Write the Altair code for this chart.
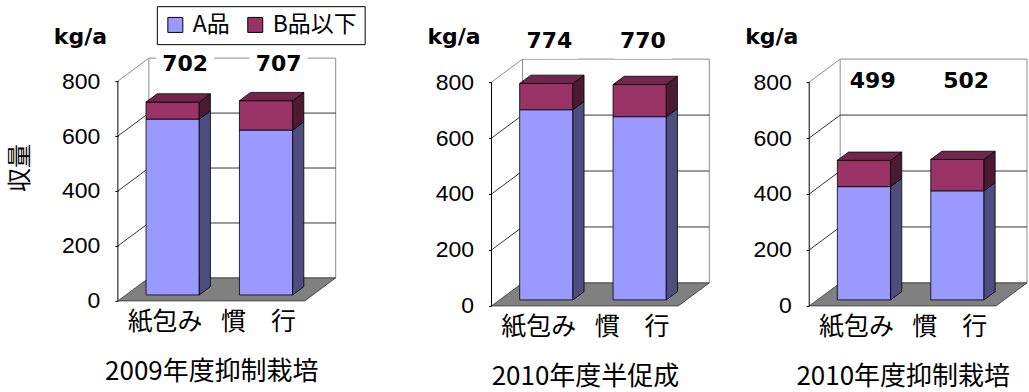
import altair as alt
import pandas as pd

# ---- values ----
categories = ["紙包み", "慣　行"]
series = ["A品", "B品以下"]
panel_titles = ["2009年度抑制栽培", "2010年度半促成", "2010年度抑制栽培"]
a_grade = [[640, 600], [680, 655], [405, 390]]   # A品 (kg/a)
totals = [[702, 707], [774, 770], [499, 502]]    # A品 + B品以下 (kg/a)
y_ticks = [0, 200, 400, 600, 800]
unit_label = "kg/a"
y_title = "収量"

# ---- layout and style ----
JP = "Noto Sans CJK JP"
NUM = "Liberation Sans"
BOLD = "DejaVu Sans"
CAT_PX = 93.5            # pixels per category slot on the front plane
WALL_DX, WALL_DY = 31, 23  # oblique offset of the back wall (right, up), px
BAR_W = 0.57             # bar width in category units
BAR_D0, BAR_D1 = 0.26, 0.62  # bar front / back depth (fraction of wall depth)
Y_MAX = 1000
PLOT_W = [274, 218, 218]
PLOT_H = [275, 280, 280]
LABEL_POS = [(0.22, 862), (0.12, 946), (0.18, 803)]  # (x shift, y) of totals
FRONT = ["#9999FF", "#993366"]
SIDE = ["#4D4D80", "#4D1A33"]
TOP = "#73264D"
WALL_EDGE = "#8C8C8C"
FLOOR = "#808080"


def panel(i):
    n = len(categories)
    W, H = PLOT_W[i], PLOT_H[i]
    ax = WALL_DX / CAT_PX
    ay = WALL_DY * Y_MAX / H
    xs = alt.Scale(domain=[0, W / CAT_PX], nice=False, zero=False)
    ys = alt.Scale(domain=[0, Y_MAX], nice=False, zero=False)
    top_v = y_ticks[-1]

    label_expr = "[" + ",".join(f"'{c}'" for c in categories) + "][floor(datum.value)]"
    x_axis = alt.Axis(values=[j + 0.5 for j in range(n)], labelExpr=label_expr,
                      domain=False, ticks=False, grid=False,
                      labelFont=JP, labelFontSize=25, labelPadding=9, labelColor="black",
                      title=panel_titles[i], titleFont=JP, titleFontSize=26,
                      titleFontWeight="normal", titleColor="black",
                      titleX=n * CAT_PX / 2, titleY=71, titleBaseline="middle",
                      titleAlign="center")
    y_axis = alt.Axis(values=y_ticks, domain=False, grid=False, ticks=True, tickSize=3,
                      tickColor="black", labelFont=NUM, labelFontSize=23, labelPadding=15,
                      labelColor="black",
                      title=unit_label, titleAngle=0, titleX=-38, titleY=10,
                      titleAlign="center", titleBaseline="middle", titleFont=BOLD,
                      titleFontSize=22, titleFontWeight="bold", titleColor="black")

    # every layer shares the same scales and the same axis definitions
    def X(f="x"):
        return alt.X(f"{f}:Q", scale=xs, axis=x_axis)

    def Y(f="y"):
        return alt.Y(f"{f}:Q", scale=ys, axis=y_axis)

    # walls and floor
    wall = pd.DataFrame({"x": [ax], "x2": [n + ax], "y": [ay], "y2": [top_v + ay]})
    back_grid = pd.DataFrame({"x": ax, "x2": n + ax,
                              "y": [v + ay for v in y_ticks[1:-1]]})
    side_grid = pd.DataFrame({"x": 0.0, "x2": ax, "y": y_ticks[1:-1],
                              "y2": [v + ay for v in y_ticks[1:-1]]})
    side_top = pd.DataFrame({"x": [0.0], "x2": [ax], "y": [top_v], "y2": [top_v + ay]})
    floor = pd.DataFrame({"y": [0, ay], "x": [0, ax], "x2": [n, n + ax]})
    axis_line = pd.DataFrame({"x": [0.0], "y": [0], "y2": [top_v]})

    fronts, sides, tops, labels = [], [], [], []
    for j, cat in enumerate(categories):
        c = j + 0.5
        a = a_grade[i][j]
        t = totals[i][j]
        segs = [(series[0], 0, a), (series[1], a, t)]
        for s, lo, hi in segs:
            fronts.append({"series": s, "cat": cat,
                           "x": c - BAR_W / 2 + BAR_D0 * ax,
                           "x2": c + BAR_W / 2 + BAR_D0 * ax,
                           "y": lo + BAR_D0 * ay, "y2": hi + BAR_D0 * ay})
            for d in (BAR_D0, BAR_D1):
                sides.append({"series": s, "key": f"{j}-{s}",
                              "x": c + BAR_W / 2 + d * ax,
                              "y": lo + d * ay, "y2": hi + d * ay})
        for d in (BAR_D0, BAR_D1):
            tops.append({"key": str(j), "y": t + d * ay,
                         "x": c - BAR_W / 2 + d * ax,
                         "x2": c + BAR_W / 2 + d * ax})
        labels.append({"x": c + LABEL_POS[i][0], "y": LABEL_POS[i][1], "total": t})
    fronts = pd.DataFrame(fronts)
    sides = pd.DataFrame(sides)
    tops = pd.DataFrame(tops)
    labels = pd.DataFrame(labels)

    layers = []
    layers.append(alt.Chart(wall).mark_rect(fill="white", stroke=WALL_EDGE, strokeWidth=1)
                  .encode(x=X(), x2="x2:Q", y=Y(), y2="y2:Q"))
    layers.append(alt.Chart(back_grid).mark_rule(color="black", strokeWidth=0.8)
                  .encode(x=X(), x2="x2:Q", y=Y()))
    layers.append(alt.Chart(side_grid).mark_rule(color="black", strokeWidth=0.8)
                  .encode(x=X(), x2="x2:Q", y=Y(), y2="y2:Q"))
    layers.append(alt.Chart(side_top).mark_rule(color=WALL_EDGE, strokeWidth=1)
                  .encode(x=X(), x2="x2:Q", y=Y(), y2="y2:Q"))
    layers.append(alt.Chart(floor).mark_area(orient="horizontal", color=FLOOR,
                                             stroke="#333333", strokeWidth=0.8, opacity=1)
                  .encode(y=Y(), x=X(), x2="x2:Q"))
    layers.append(alt.Chart(axis_line).mark_rule(color="black", strokeWidth=1)
                  .encode(x=X(), y=Y(), y2="y2:Q"))
    # white boxes behind the total labels
    layers.append(alt.Chart(labels).mark_point(shape="M-1,-0.6H1V0.6H-1Z", size=3364,
                                               filled=True, color="white", opacity=1,
                                               strokeWidth=0)
                  .encode(x=X(), y=Y()))

    if i == 0:
        legend = alt.Legend(orient="none", legendX=39, legendY=-20, direction="horizontal",
                            title=None, strokeColor="black", fillColor="white", padding=7,
                            cornerRadius=0, symbolType="square", symbolSize=225,
                            symbolStrokeColor="black", symbolStrokeWidth=1,
                            labelFont=JP, labelFontSize=23, labelColor="black",
                            labelOffset=6, columnPadding=14)
    else:
        legend = None
    color_enc = alt.Color("series:N", scale=alt.Scale(domain=series, range=FRONT),
                          legend=legend)
    layers.append(alt.Chart(fronts).mark_rect(stroke="black", strokeWidth=0.8, opacity=1)
                  .encode(x=X(), x2="x2:Q", y=Y(), y2="y2:Q", color=color_enc))
    for k, s in enumerate(series):
        layers.append(alt.Chart(sides).transform_filter(alt.datum.series == s)
                      .mark_area(orient="vertical", color=SIDE[k], stroke="black",
                                 strokeWidth=0.8, opacity=1)
                      .encode(x=X(), y=Y(), y2="y2:Q", detail="key:N"))
    layers.append(alt.Chart(tops).mark_area(orient="horizontal", color=TOP, stroke="black",
                                            strokeWidth=0.8, opacity=1)
                  .encode(y=Y(), x=X(), x2="x2:Q", detail="key:N"))
    layers.append(alt.Chart(labels).mark_text(font=BOLD, fontWeight="bold", fontSize=22,
                                              color="black", baseline="middle")
                  .encode(x=X(), y=Y(), text=alt.Text("total:Q", format="d")))
    if i == 0:
        layers.append(alt.Chart(pd.DataFrame({"t": [y_title]}))
                      .mark_text(angle=270, font=JP, fontSize=24, color="black",
                                 baseline="middle", align="center")
                      .encode(x=alt.value(-97), y=alt.value(142), text="t:N"))
    return alt.layer(*layers).properties(width=W, height=H)


panels = [panel(i) for i in range(len(panel_titles))]
chart = (alt.hconcat(*panels, spacing=100, bounds="flush")
         .resolve_scale(color="independent")
         .properties(padding={"left": 9, "top": 5, "right": 0, "bottom": 2})
         .configure(background="white")
         .configure_view(stroke="transparent", strokeWidth=0))
chart.save("out.html", embed_options={"renderer": "svg", "actions": False})
